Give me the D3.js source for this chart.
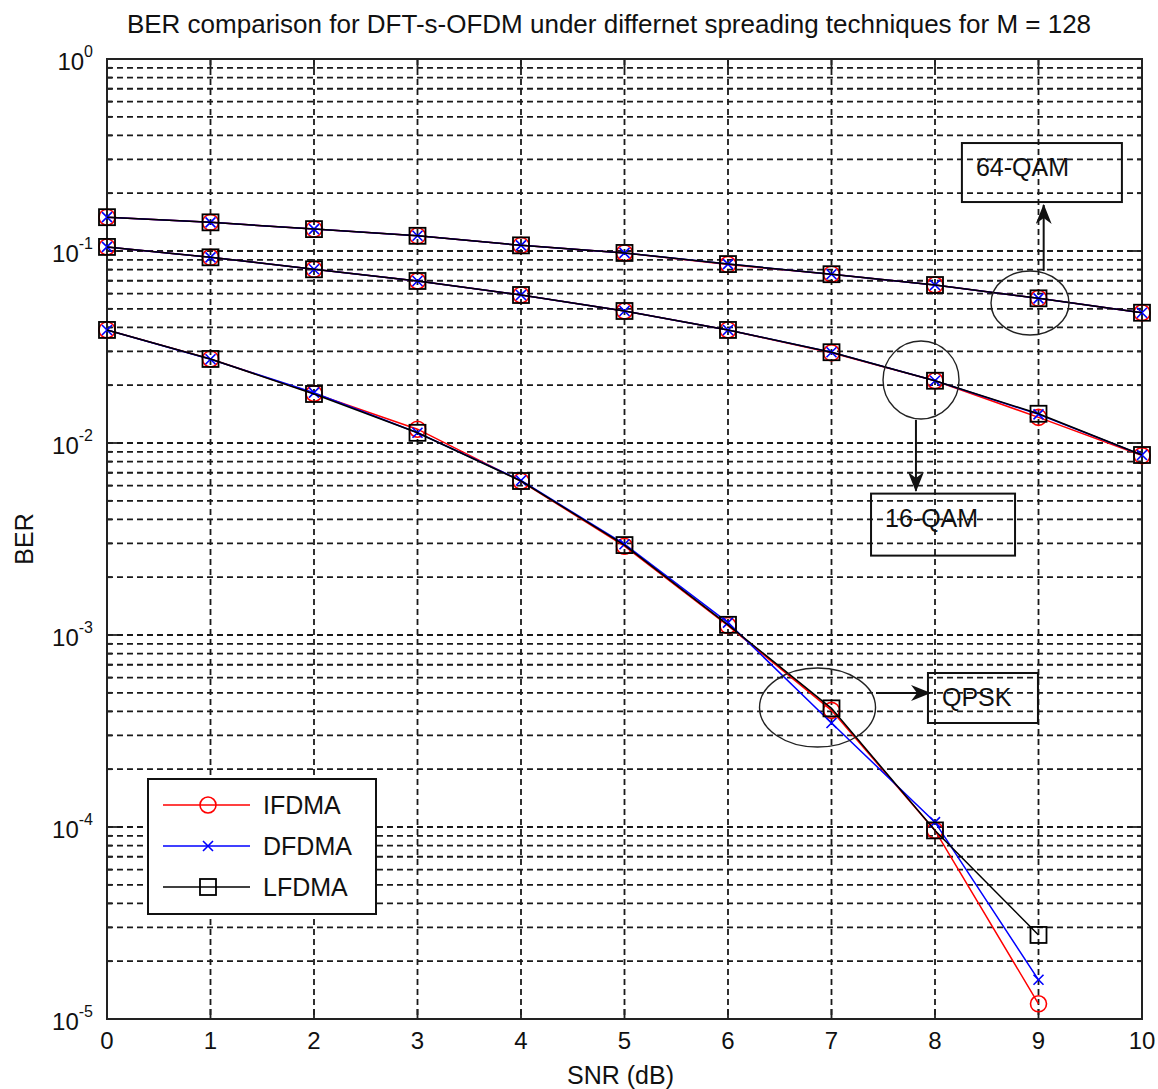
<!DOCTYPE html>
<html>
<head>
<meta charset="utf-8">
<script src="https://cdn.jsdelivr.net/npm/d3@7"></script>
<style>
  body { margin: 0; background: #fff; }
  text { font-family: "Liberation Sans", Arial, sans-serif; fill: #111; }
</style>
</head>
<body>
<div class="chart"></div>
<script>
// data
const snr = [0, 1, 2, 3, 4, 5, 6, 7, 8, 9, 10];

const ifdmaQpsk = [0.0388, 0.0274, 0.0181, 0.0118, 0.00632, 0.00290, 0.00112, 0.000405, 0.0000960, 0.0000120];
const dfdmaQpsk = [0.0388, 0.0273, 0.0183, 0.0113, 0.00638, 0.00297, 0.00116, 0.000348, 0.000106, 0.0000160];
const lfdmaQpsk = [0.0388, 0.0274, 0.0180, 0.0113, 0.00634, 0.00294, 0.00113, 0.000415, 0.0000960, 0.0000274];

const ifdma16 = [0.105, 0.0927, 0.0803, 0.0698, 0.0590, 0.0487, 0.0388, 0.0295, 0.0211, 0.0136, 0.00860];
const dfdma16 = [0.105, 0.0927, 0.0803, 0.0698, 0.0590, 0.0487, 0.0388, 0.0297, 0.0211, 0.0141, 0.00866];
const lfdma16 = [0.105, 0.0927, 0.0803, 0.0698, 0.0590, 0.0487, 0.0388, 0.0297, 0.0211, 0.0142, 0.00866];

const ifdma64 = [0.150, 0.141, 0.130, 0.120, 0.107, 0.0977, 0.0850, 0.0757, 0.0665, 0.0567, 0.0477];
const dfdma64 = [0.150, 0.141, 0.130, 0.120, 0.107, 0.0977, 0.0855, 0.0757, 0.0665, 0.0567, 0.0477];
const lfdma64 = [0.150, 0.141, 0.130, 0.120, 0.107, 0.0977, 0.0855, 0.0757, 0.0665, 0.0567, 0.0477];

const seriesNames = ["IFDMA", "DFDMA", "LFDMA"];
const xTicks = [0, 1, 2, 3, 4, 5, 6, 7, 8, 9, 10];
const yDecades = [-5, -4, -3, -2, -1, 0];

// annotations: ellipse around a point, arrow, labelled box (data coords)
const annotations = [
  {label: "64-QAM", cx: 8.918, cy: 0.0536, rx: 39, ry: 32,
   a0: [9.05, 0.0787], a1: [9.05, 0.1737], bx: 8.26, by: 0.365, bw: 160, bh: 59},
  {label: "16-QAM", cx: 7.865, cy: 0.0213, rx: 38, ry: 39,
   a0: [7.816, 0.0132], a1: [7.816, 0.00563], bx: 7.382, by: 0.00545, bw: 144, bh: 62},
  {label: "QPSK", cx: 6.865, cy: 0.000419, rx: 58, ry: 39.5,
   a0: [7.43, 0.000499], a1: [7.952, 0.000499], bx: 7.932, by: 0.000634, bw: 110, bh: 50}
];

const margin = ({top: 59, right: 16, bottom: 70, left: 107});
const W = 1158, H = 1089;
const w = W - margin.left - margin.right,
      h = H - margin.top - margin.bottom;

const svg = d3.select(".chart")
  .append("svg")
  .attr("width", W)
  .attr("height", H);

const g = svg.append("g")
  .attr("transform", `translate(${margin.left},${margin.top})`);

const xScale = d3.scaleLinear().domain([0, 10]).range([0, w]);
const yScale = d3.scaleLog().domain([1e-5, 1]).range([h, 0]);

// grid
const minorVals = [];
yDecades.forEach(e => {
  if (e < 0) for (let k = 1; k <= 9; k++) minorVals.push(k * Math.pow(10, e));
});
const gridStyle = s => s.attr("stroke", "#1a1a1a").attr("stroke-width", 1.8)
  .attr("stroke-dasharray", "6,4").attr("fill", "none");

g.append("g").selectAll("line")
  .data(minorVals.filter(v => v > 1e-5))
  .join("line")
  .attr("x1", 0).attr("x2", w)
  .attr("y1", d => yScale(d)).attr("y2", d => yScale(d))
  .call(gridStyle);

g.append("g").selectAll("line")
  .data(xTicks.slice(1, -1))
  .join("line")
  .attr("y1", 0).attr("y2", h)
  .attr("x1", d => xScale(d)).attr("x2", d => xScale(d))
  .call(gridStyle);

// tick marks (inward, both sides)
const ticks = g.append("g").attr("stroke", "#222").attr("stroke-width", 1.8);
xTicks.forEach(t => {
  ticks.append("line").attr("x1", xScale(t)).attr("x2", xScale(t)).attr("y1", h).attr("y2", h - 10);
  ticks.append("line").attr("x1", xScale(t)).attr("x2", xScale(t)).attr("y1", 0).attr("y2", 10);
});
minorVals.concat([1]).forEach(v => {
  const major = Math.abs(Math.log10(v) - Math.round(Math.log10(v))) < 1e-9;
  const len = major ? 10 : 5;
  ticks.append("line").attr("x1", 0).attr("x2", len).attr("y1", yScale(v)).attr("y2", yScale(v));
  ticks.append("line").attr("x1", w).attr("x2", w - len).attr("y1", yScale(v)).attr("y2", yScale(v));
});

// frame
g.append("rect")
  .attr("width", w).attr("height", h)
  .attr("fill", "none").attr("stroke", "#222").attr("stroke-width", 2);

// tick labels
g.append("g").selectAll("text")
  .data(xTicks)
  .join("text")
  .attr("x", d => xScale(d))
  .attr("y", h + 30)
  .attr("text-anchor", "middle")
  .attr("font-size", 24)
  .text(d => d);

const yl = g.append("g").selectAll("text")
  .data(yDecades)
  .join("text")
  .attr("x", -14)
  .attr("y", d => yScale(Math.pow(10, d)) + 11)
  .attr("text-anchor", "end")
  .attr("font-size", 24);
yl.append("tspan").text("10");
yl.append("tspan").attr("dy", -13).attr("font-size", 16).text(d => d);

// titles
svg.append("text")
  .attr("x", 609).attr("y", 33)
  .attr("text-anchor", "middle").attr("font-size", 26)
  .text("BER comparison for DFT-s-OFDM under differnet spreading techniques for M = 128");
svg.append("text")
  .attr("x", margin.left + w / 2 - 4).attr("y", H - 5)
  .attr("text-anchor", "middle").attr("font-size", 25)
  .text("SNR (dB)");
svg.append("text")
  .attr("transform", `translate(33,${margin.top + h / 2}) rotate(-90)`)
  .attr("text-anchor", "middle").attr("font-size", 25)
  .text("BER");

// curves
const colors = {IFDMA: "#ff0000", DFDMA: "#0000ff", LFDMA: "#000000"};
const groups = [
  {name: "IFDMA", sets: [ifdmaQpsk, ifdma16, ifdma64]},
  {name: "DFDMA", sets: [dfdmaQpsk, dfdma16, dfdma64]},
  {name: "LFDMA", sets: [lfdmaQpsk, lfdma16, lfdma64]}
];

const line = d3.line()
  .x((d, i) => xScale(snr[i]))
  .y(d => yScale(d));

function drawMarker(sel, name, x, y) {
  const c = colors[name];
  if (name === "IFDMA") {
    sel.append("circle").attr("cx", x).attr("cy", y).attr("r", 8)
      .attr("fill", "none").attr("stroke", c).attr("stroke-width", 1.6);
  } else if (name === "DFDMA") {
    sel.append("path")
      .attr("d", `M${x - 5},${y - 5}L${x + 5},${y + 5}M${x - 5},${y + 5}L${x + 5},${y - 5}`)
      .attr("stroke", c).attr("stroke-width", 1.6);
  } else {
    sel.append("rect").attr("x", x - 8).attr("y", y - 8).attr("width", 16).attr("height", 16)
      .attr("fill", "none").attr("stroke", c).attr("stroke-width", 1.8);
  }
}

groups.forEach(gr => {
  const gg = g.append("g");
  gr.sets.forEach(vals => {
    gg.append("path")
      .datum(vals)
      .attr("fill", "none")
      .attr("stroke", colors[gr.name])
      .attr("stroke-width", 1.5)
      .attr("d", line);
    vals.forEach((v, i) => drawMarker(gg, gr.name, xScale(snr[i]), yScale(v)));
  });
});

// annotations
svg.append("defs").append("marker")
  .attr("id", "head")
  .attr("viewBox", "0 0 20 16")
  .attr("refX", 19).attr("refY", 8)
  .attr("markerWidth", 20).attr("markerHeight", 16)
  .attr("markerUnits", "userSpaceOnUse")
  .attr("orient", "auto")
  .append("path")
  .attr("d", "M0,0 L20,8 L0,16 L6,8 Z")
  .attr("fill", "#111");

const ann = g.append("g");
annotations.forEach(a => {
  ann.append("ellipse")
    .attr("cx", xScale(a.cx)).attr("cy", yScale(a.cy))
    .attr("rx", a.rx).attr("ry", a.ry)
    .attr("fill", "none").attr("stroke", "#222").attr("stroke-width", 1.4);
  ann.append("line")
    .attr("x1", xScale(a.a0[0])).attr("y1", yScale(a.a0[1]))
    .attr("x2", xScale(a.a1[0])).attr("y2", yScale(a.a1[1]))
    .attr("stroke", "#111").attr("stroke-width", 2)
    .attr("marker-end", "url(#head)");
  const bx = xScale(a.bx), by = yScale(a.by);
  ann.append("rect")
    .attr("x", bx).attr("y", by).attr("width", a.bw).attr("height", a.bh)
    .attr("fill", "none").attr("stroke", "#111").attr("stroke-width", 2);
  ann.append("text")
    .attr("x", bx + 14).attr("y", by + 33)
    .attr("font-size", 25)
    .text(a.label);
});

// legend
const leg = svg.append("g").attr("transform", "translate(148,779)");
leg.append("rect").attr("width", 228).attr("height", 135)
  .attr("fill", "#fff").attr("stroke", "#111").attr("stroke-width", 2);
seriesNames.forEach((n, i) => {
  const y = 26 + i * 41;
  leg.append("line").attr("x1", 15).attr("x2", 102).attr("y1", y).attr("y2", y)
    .attr("stroke", colors[n]).attr("stroke-width", 1.6);
  drawMarker(leg, n, 60, y);
  leg.append("text").attr("x", 115).attr("y", y + 9).attr("font-size", 25).text(n);
});
</script>
</body>
</html>
